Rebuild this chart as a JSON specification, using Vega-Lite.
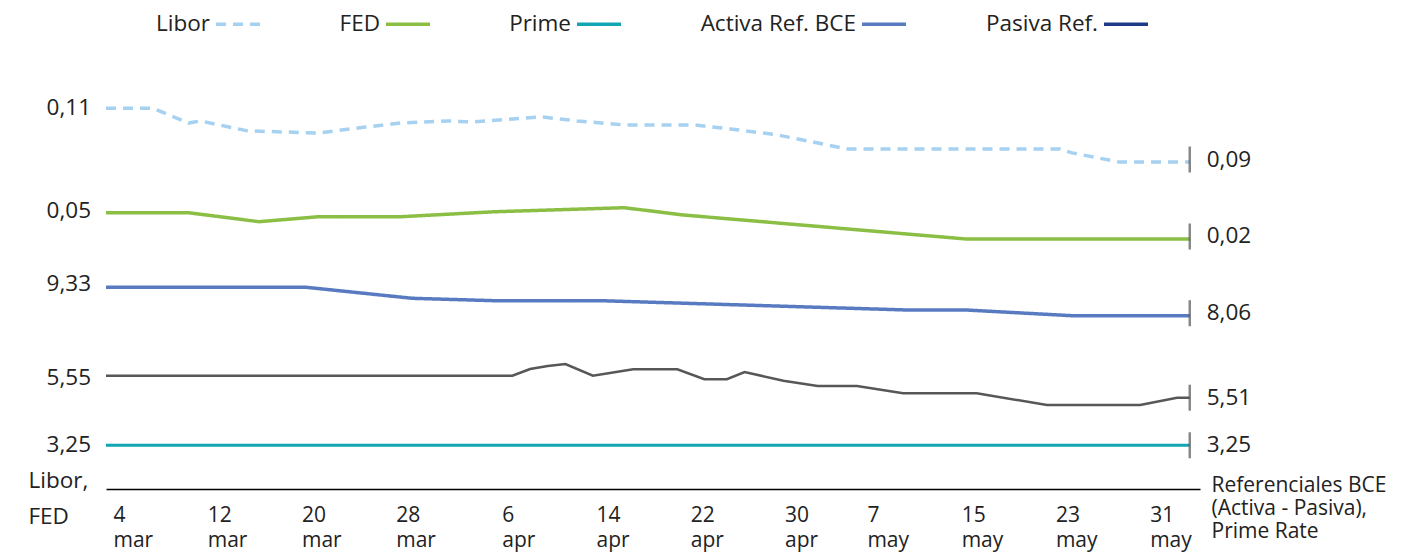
{
  "$schema": "https://vega.github.io/schema/vega-lite/v6.json",
  "width": 1094,
  "height": 409,
  "autosize": {"type": "none"},
  "padding": {"left": 106, "top": 80, "right": 221, "bottom": 64},
  "background": "white",
  "data": {
    "format": {"parse": {"date": "date"}},
    "values": [
      {"serie": "Libor", "date": "2024-03-04T00:00Z", "v": 0.110},
      {"serie": "Libor", "date": "2024-03-08T00:00Z", "v": 0.110},
      {"serie": "Libor", "date": "2024-03-11T00:00Z", "v": 0.1045},
      {"serie": "Libor", "date": "2024-03-12T00:00Z", "v": 0.1053},
      {"serie": "Libor", "date": "2024-03-16T00:00Z", "v": 0.1016},
      {"serie": "Libor", "date": "2024-03-19T00:00Z", "v": 0.1012},
      {"serie": "Libor", "date": "2024-03-22T00:00Z", "v": 0.1008},
      {"serie": "Libor", "date": "2024-03-26T00:00Z", "v": 0.1030},
      {"serie": "Libor", "date": "2024-03-29T00:00Z", "v": 0.1045},
      {"serie": "Libor", "date": "2024-04-02T00:00Z", "v": 0.1053},
      {"serie": "Libor", "date": "2024-04-04T00:00Z", "v": 0.1049},
      {"serie": "Libor", "date": "2024-04-10T00:00Z", "v": 0.1068},
      {"serie": "Libor", "date": "2024-04-13T00:00Z", "v": 0.1053},
      {"serie": "Libor", "date": "2024-04-17T00:00Z", "v": 0.1038},
      {"serie": "Libor", "date": "2024-04-23T00:00Z", "v": 0.1038},
      {"serie": "Libor", "date": "2024-04-26T00:00Z", "v": 0.1023},
      {"serie": "Libor", "date": "2024-04-30T00:00Z", "v": 0.1001},
      {"serie": "Libor", "date": "2024-05-06T00:00Z", "v": 0.0948},
      {"serie": "Libor", "date": "2024-05-24T00:00Z", "v": 0.0948},
      {"serie": "Libor", "date": "2024-05-25T00:00Z", "v": 0.0934},
      {"serie": "Libor", "date": "2024-05-29T00:00Z", "v": 0.0900},
      {"serie": "Libor", "date": "2024-06-04T00:00Z", "v": 0.0900},

      {"serie": "FED", "date": "2024-03-04T00:00Z", "v": 0.050},
      {"serie": "FED", "date": "2024-03-11T00:00Z", "v": 0.050},
      {"serie": "FED", "date": "2024-03-17T00:00Z", "v": 0.0397},
      {"serie": "FED", "date": "2024-03-22T00:00Z", "v": 0.0454},
      {"serie": "FED", "date": "2024-03-29T00:00Z", "v": 0.0454},
      {"serie": "FED", "date": "2024-04-06T00:00Z", "v": 0.0511},
      {"serie": "FED", "date": "2024-04-17T00:00Z", "v": 0.0557},
      {"serie": "FED", "date": "2024-04-22T00:00Z", "v": 0.0474},
      {"serie": "FED", "date": "2024-05-16T00:00Z", "v": 0.020},
      {"serie": "FED", "date": "2024-06-04T00:00Z", "v": 0.020},

      {"serie": "Prime", "date": "2024-03-04T00:00Z", "v": 3.25},
      {"serie": "Prime", "date": "2024-06-04T00:00Z", "v": 3.25},

      {"serie": "Activa Ref. BCE", "date": "2024-03-04T00:00Z", "v": 9.33},
      {"serie": "Activa Ref. BCE", "date": "2024-03-21T00:00Z", "v": 9.33},
      {"serie": "Activa Ref. BCE", "date": "2024-03-30T00:00Z", "v": 8.838},
      {"serie": "Activa Ref. BCE", "date": "2024-04-06T00:00Z", "v": 8.731},
      {"serie": "Activa Ref. BCE", "date": "2024-04-15T00:00Z", "v": 8.731},
      {"serie": "Activa Ref. BCE", "date": "2024-05-11T00:00Z", "v": 8.315},
      {"serie": "Activa Ref. BCE", "date": "2024-05-16T00:00Z", "v": 8.315},
      {"serie": "Activa Ref. BCE", "date": "2024-05-25T00:00Z", "v": 8.06},
      {"serie": "Activa Ref. BCE", "date": "2024-06-04T00:00Z", "v": 8.06},

      {"serie": "Pasiva Ref.", "date": "2024-03-04T00:00Z", "v": 5.55},
      {"serie": "Pasiva Ref.", "date": "2024-04-07T12:00Z", "v": 5.55},
      {"serie": "Pasiva Ref.", "date": "2024-04-09T00:00Z", "v": 5.5622},
      {"serie": "Pasiva Ref.", "date": "2024-04-10T12:00Z", "v": 5.5676},
      {"serie": "Pasiva Ref.", "date": "2024-04-12T00:00Z", "v": 5.5713},
      {"serie": "Pasiva Ref.", "date": "2024-04-14T08:00Z", "v": 5.55},
      {"serie": "Pasiva Ref.", "date": "2024-04-17T18:00Z", "v": 5.5616},
      {"serie": "Pasiva Ref.", "date": "2024-04-21T12:00Z", "v": 5.5616},
      {"serie": "Pasiva Ref.", "date": "2024-04-23T19:00Z", "v": 5.5435},
      {"serie": "Pasiva Ref.", "date": "2024-04-25T17:00Z", "v": 5.5435},
      {"serie": "Pasiva Ref.", "date": "2024-04-27T05:00Z", "v": 5.5567},
      {"serie": "Pasiva Ref.", "date": "2024-04-30T12:00Z", "v": 5.5409},
      {"serie": "Pasiva Ref.", "date": "2024-05-03T10:00Z", "v": 5.5313},
      {"serie": "Pasiva Ref.", "date": "2024-05-06T18:00Z", "v": 5.5313},
      {"serie": "Pasiva Ref.", "date": "2024-05-10T16:00Z", "v": 5.518},
      {"serie": "Pasiva Ref.", "date": "2024-05-16T22:00Z", "v": 5.518},
      {"serie": "Pasiva Ref.", "date": "2024-05-22T21:00Z", "v": 5.4967},
      {"serie": "Pasiva Ref.", "date": "2024-05-30T19:00Z", "v": 5.4967},
      {"serie": "Pasiva Ref.", "date": "2024-06-02T22:00Z", "v": 5.51},
      {"serie": "Pasiva Ref.", "date": "2024-06-04T00:00Z", "v": 5.51}
    ]
  },
  "encoding": {
    "x": {
      "field": "date",
      "type": "temporal",
      "scale": {
        "type": "utc",
        "nice": false,
        "domain": [
          {"year": 2024, "month": 3, "date": 4, "utc": true},
          {"year": 2024, "month": 6, "date": 4, "hours": 20, "minutes": 52, "utc": true}
        ]
      },
      "axis": {
        "title": null,
        "grid": false,
        "ticks": false,
        "domainColor": "#000000",
        "domainWidth": 1.5,
        "labelAlign": "left",
        "labelBaseline": "top",
        "labelOffset": 7,
        "labelPadding": 15,
        "labelLineHeight": 25,
        "labelFlush": false,
        "labelOverlap": false,
        "values": [
          {"year": 2024, "month": 3, "date": 4, "utc": true},
          {"year": 2024, "month": 3, "date": 12, "utc": true},
          {"year": 2024, "month": 3, "date": 20, "utc": true},
          {"year": 2024, "month": 3, "date": 28, "utc": true},
          {"year": 2024, "month": 4, "date": 6, "utc": true},
          {"year": 2024, "month": 4, "date": 14, "utc": true},
          {"year": 2024, "month": 4, "date": 22, "utc": true},
          {"year": 2024, "month": 4, "date": 30, "utc": true},
          {"year": 2024, "month": 5, "date": 7, "utc": true},
          {"year": 2024, "month": 5, "date": 15, "utc": true},
          {"year": 2024, "month": 5, "date": 23, "utc": true},
          {"year": 2024, "month": 5, "date": 31, "utc": true}
        ],
        "labelExpr": "[utcFormat(datum.value, '%-d'), lower(utcFormat(datum.value, '%b'))]"
      }
    }
  },
  "layer": [
    {
      "transform": [{"filter": {"field": "serie", "equal": "Libor"}}],
      "encoding": {
        "y": {
          "field": "v", "type": "quantitative",
          "scale": {"domain": [-0.03177, 0.12054], "zero": false, "nice": false},
          "axis": {
            "orient": "left", "labels": false, "ticks": false, "domain": false, "grid": false,
            "title": ["Libor,", "FED"], "titleAngle": 0, "titleAlign": "left", "titleBaseline": "alphabetic",
            "titleX": -78, "titleY": 407, "titleLineHeight": 36, "titleFontSize": 22.5
          }
        }
      },
      "layer": [
        {
          "mark": {"type": "line", "strokeWidth": 3.5},
          "encoding": {
            "color": {"field": "serie", "type": "nominal", "title": null,
              "scale": {"domain": ["Libor", "FED", "Prime", "Activa Ref. BCE", "Pasiva Ref."], "range": ["#a6d1f0", "#8abe44", "#12a5b5", "#587ac1", "#1f3b87"]},
              "legend": {"orient": "none", "legendX": 108, "legendY": -80, "direction": "horizontal", "title": null}},
            "strokeDash": {"field": "serie", "type": "nominal", "title": null,
              "scale": {"domain": ["Libor", "FED", "Prime", "Activa Ref. BCE", "Pasiva Ref."], "range": [[10, 7], [1, 0], [1, 0], [1, 0], [1, 0]]},
              "legend": {"orient": "none", "legendX": 108, "legendY": -80, "direction": "horizontal", "title": null}}
          }
        },
        {"transform": [{"filter": "utcmonth(datum.date) == 2 && utcdate(datum.date) == 4"}],
         "mark": {"type": "text", "align": "right", "baseline": "middle", "dx": -15},
         "encoding": {"text": {"field": "v", "type": "quantitative", "format": ".2f"}}},
        {"transform": [{"filter": "utcmonth(datum.date) == 5 && utcdate(datum.date) == 4"}],
         "mark": {"type": "text", "align": "left", "baseline": "middle", "dx": 17, "dy": -2.5},
         "encoding": {"text": {"field": "v", "type": "quantitative", "format": ".2f"}}},
        {"transform": [{"filter": "utcmonth(datum.date) == 5 && utcdate(datum.date) == 4"}],
         "mark": {"type": "tick", "orient": "vertical", "size": 26, "thickness": 2.5, "color": "#555555", "yOffset": -2.5}}
      ]
    },
    {
      "transform": [{"filter": {"field": "serie", "equal": "FED"}}],
      "encoding": {
        "y": {"field": "v", "type": "quantitative",
          "scale": {"domain": [-0.26518, 0.20137], "zero": false, "nice": false}, "axis": null}
      },
      "layer": [
        {
          "mark": {"type": "line", "strokeWidth": 3.5},
          "encoding": {
            "color": {"field": "serie", "type": "nominal", "title": null,
              "scale": {"domain": ["Libor", "FED", "Prime", "Activa Ref. BCE", "Pasiva Ref."], "range": ["#a6d1f0", "#8abe44", "#12a5b5", "#587ac1", "#1f3b87"]},
              "legend": {"orient": "none", "legendX": 108, "legendY": -80, "direction": "horizontal", "title": null}},
            "strokeDash": {"field": "serie", "type": "nominal", "title": null,
              "scale": {"domain": ["Libor", "FED", "Prime", "Activa Ref. BCE", "Pasiva Ref."], "range": [[10, 7], [1, 0], [1, 0], [1, 0], [1, 0]]},
              "legend": {"orient": "none", "legendX": 108, "legendY": -80, "direction": "horizontal", "title": null}}
          }
        },
        {"transform": [{"filter": "utcmonth(datum.date) == 2 && utcdate(datum.date) == 4"}],
         "mark": {"type": "text", "align": "right", "baseline": "middle", "dx": -15, "dy": -2},
         "encoding": {"text": {"field": "v", "type": "quantitative", "format": ".2f"}}},
        {"transform": [{"filter": "utcmonth(datum.date) == 5 && utcdate(datum.date) == 4"}],
         "mark": {"type": "text", "align": "left", "baseline": "middle", "dx": 17, "dy": -2.5},
         "encoding": {"text": {"field": "v", "type": "quantitative", "format": ".2f"}}},
        {"transform": [{"filter": "utcmonth(datum.date) == 5 && utcdate(datum.date) == 4"}],
         "mark": {"type": "tick", "orient": "vertical", "size": 26, "thickness": 2.5, "color": "#555555", "yOffset": -2.5}}
      ]
    },
    {
      "transform": [{"filter": {"field": "serie", "equal": "Prime"}}],
      "encoding": {
        "y": {"field": "v", "type": "quantitative",
          "scale": {"domain": [2.813, 6.903], "zero": false, "nice": false}, "axis": null}
      },
      "layer": [
        {
          "mark": {"type": "line", "strokeWidth": 3},
          "encoding": {
            "color": {"field": "serie", "type": "nominal", "title": null,
              "scale": {"domain": ["Libor", "FED", "Prime", "Activa Ref. BCE", "Pasiva Ref."], "range": ["#a6d1f0", "#8abe44", "#12a5b5", "#587ac1", "#1f3b87"]},
              "legend": {"orient": "none", "legendX": 108, "legendY": -80, "direction": "horizontal", "title": null}},
            "strokeDash": {"field": "serie", "type": "nominal", "title": null,
              "scale": {"domain": ["Libor", "FED", "Prime", "Activa Ref. BCE", "Pasiva Ref."], "range": [[10, 7], [1, 0], [1, 0], [1, 0], [1, 0]]},
              "legend": {"orient": "none", "legendX": 108, "legendY": -80, "direction": "horizontal", "title": null}}
          }
        },
        {"transform": [{"filter": "utcmonth(datum.date) == 2 && utcdate(datum.date) == 4"}],
         "mark": {"type": "text", "align": "right", "baseline": "middle", "dx": -15},
         "encoding": {"text": {"field": "v", "type": "quantitative", "format": ".2f"}}},
        {"transform": [{"filter": "utcmonth(datum.date) == 5 && utcdate(datum.date) == 4"}],
         "mark": {"type": "text", "align": "left", "baseline": "middle", "dx": 17},
         "encoding": {"text": {"field": "v", "type": "quantitative", "format": ".2f"}}},
        {"transform": [{"filter": "utcmonth(datum.date) == 5 && utcdate(datum.date) == 4"}],
         "mark": {"type": "tick", "orient": "vertical", "size": 26, "thickness": 2.5, "color": "#555555"}}
      ]
    },
    {
      "transform": [{"filter": {"field": "serie", "equal": "Activa Ref. BCE"}}],
      "encoding": {
        "y": {
          "field": "v", "type": "quantitative",
          "scale": {"domain": [0.3104, 18.6], "zero": false, "nice": false},
          "axis": {
            "orient": "right", "labels": false, "ticks": false, "domain": false, "grid": false,
            "title": ["Referenciales BCE", "(Activa - Pasiva),", "Prime Rate"], "titleAngle": 0, "titleAlign": "left", "titleBaseline": "alphabetic",
            "titleX": 11, "titleY": 411, "titleLineHeight": 23, "titleFontSize": 21
          }
        }
      },
      "layer": [
        {
          "mark": {"type": "line", "strokeWidth": 3.5},
          "encoding": {
            "color": {"field": "serie", "type": "nominal", "title": null,
              "scale": {"domain": ["Libor", "FED", "Prime", "Activa Ref. BCE", "Pasiva Ref."], "range": ["#a6d1f0", "#8abe44", "#12a5b5", "#587ac1", "#1f3b87"]},
              "legend": {"orient": "none", "legendX": 108, "legendY": -80, "direction": "horizontal", "title": null}},
            "strokeDash": {"field": "serie", "type": "nominal", "title": null,
              "scale": {"domain": ["Libor", "FED", "Prime", "Activa Ref. BCE", "Pasiva Ref."], "range": [[10, 7], [1, 0], [1, 0], [1, 0], [1, 0]]},
              "legend": {"orient": "none", "legendX": 108, "legendY": -80, "direction": "horizontal", "title": null}}
          }
        },
        {"transform": [{"filter": "utcmonth(datum.date) == 2 && utcdate(datum.date) == 4"}],
         "mark": {"type": "text", "align": "right", "baseline": "middle", "dx": -15, "dy": -3},
         "encoding": {"text": {"field": "v", "type": "quantitative", "format": ".2f"}}},
        {"transform": [{"filter": "utcmonth(datum.date) == 5 && utcdate(datum.date) == 4"}],
         "mark": {"type": "text", "align": "left", "baseline": "middle", "dx": 17, "dy": -2.5},
         "encoding": {"text": {"field": "v", "type": "quantitative", "format": ".2f"}}},
        {"transform": [{"filter": "utcmonth(datum.date) == 5 && utcdate(datum.date) == 4"}],
         "mark": {"type": "tick", "orient": "vertical", "size": 26, "thickness": 2.5, "color": "#555555", "yOffset": -2.5}}
      ]
    },
    {
      "transform": [{"filter": {"field": "serie", "equal": "Pasiva Ref."}}],
      "encoding": {
        "y": {"field": "v", "type": "quantitative",
          "scale": {"domain": [5.344, 6.08764], "zero": false, "nice": false}, "axis": null}
      },
      "layer": [
        {"mark": {"type": "line", "strokeWidth": 2.5, "color": "#575757"}},
        {"transform": [{"filter": "utcmonth(datum.date) == 2 && utcdate(datum.date) == 4"}],
         "mark": {"type": "text", "align": "right", "baseline": "middle", "dx": -15, "dy": 2},
         "encoding": {"text": {"field": "v", "type": "quantitative", "format": ".2f"}}},
        {"transform": [{"filter": "utcmonth(datum.date) == 5 && utcdate(datum.date) == 4"}],
         "mark": {"type": "text", "align": "left", "baseline": "middle", "dx": 17},
         "encoding": {"text": {"field": "v", "type": "quantitative", "format": ".2f"}}},
        {"transform": [{"filter": "utcmonth(datum.date) == 5 && utcdate(datum.date) == 4"}],
         "mark": {"type": "tick", "orient": "vertical", "size": 26, "thickness": 2.5, "color": "#555555"}}
      ]
    }
  ],
  "resolve": {"scale": {"y": "independent"}, "axis": {"y": "independent"}},
  "config": {
    "font": "Open Sans",
    "view": {"stroke": null},
    "locale": {"number": {"decimal": ",", "thousands": ".", "grouping": [3], "currency": ["$", ""]}},
    "text": {"font": "Open Sans", "fontSize": 22.5, "color": "#222222"},
    "axis": {
      "labelFont": "Open Sans", "labelFontSize": 21, "labelColor": "#222222",
      "titleFont": "Open Sans", "titleFontSize": 21, "titleFontWeight": "normal", "titleColor": "#222222"
    },
    "legend": {
      "labelFont": "Open Sans", "labelFontSize": 22.5, "labelColor": "#222222", "labelLimit": 400,
      "symbolType": "stroke", "symbolSize": 1936, "symbolStrokeWidth": 3.5,
      "labelAlign": "right", "labelOffset": -52, "columnPadding": 72, "padding": 0
    }
  }
}
